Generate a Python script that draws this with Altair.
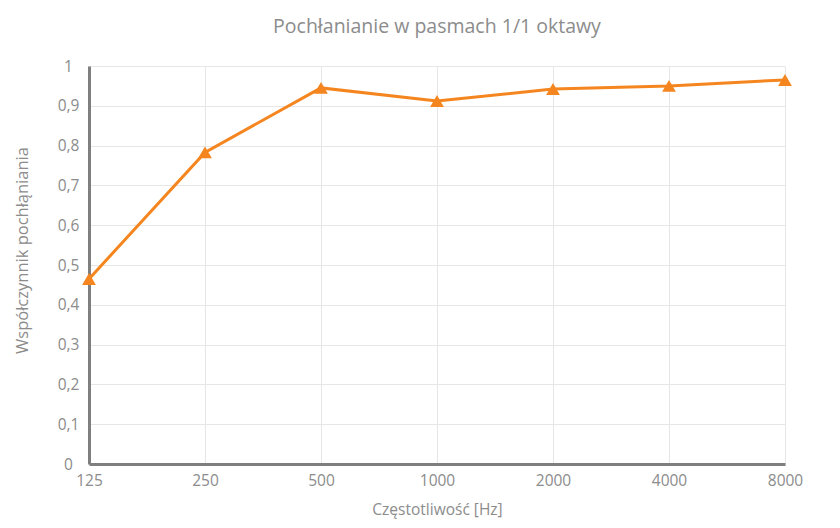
import altair as alt
import pandas as pd

freqs = ["125", "250", "500", "1000", "2000", "4000", "8000"]
alpha = [0.465, 0.783, 0.945, 0.912, 0.942, 0.950, 0.965]

df = pd.DataFrame({"f": freqs, "a": alpha})

GRAY = "#8c8c8c"
ORANGE = "#F5861F"
FONT = "Open Sans"

x = alt.X("f:N", sort=freqs, scale=alt.Scale(type="point", padding=0),
          axis=alt.Axis(title="Częstotliwość [Hz]", labelAngle=0, grid=True,
                        gridColor="#e6e6e6", domainColor="#7f7f7f", domainWidth=3,
                        ticks=False, labelPadding=9, labelFontSize=15.5,
                        labelColor=GRAY, titleColor=GRAY, titleFontSize=15.5,
                        titleFontWeight="normal", titlePadding=14,
                        labelFont=FONT, titleFont=FONT))
y = alt.Y("a:Q", scale=alt.Scale(domain=[0, 1], nice=False),
          axis=alt.Axis(title="Współczynnik pochłąniania", values=[i / 10 for i in range(11)],
                        labelExpr="replace(format(datum.value, '.1~f'), '.', ',')",
                        grid=True, gridColor="#e6e6e6", domainColor="#7f7f7f",
                        domainWidth=3, ticks=False, labelPadding=21, labelAlign="center",
                        labelFontSize=15.5, labelColor=GRAY, titleColor=GRAY,
                        titleFontSize=16.5, titleFontWeight="normal", titlePadding=27,
                        titleY=184,
                        labelFont=FONT, titleFont=FONT))

line = alt.Chart(df).mark_line(color=ORANGE, strokeWidth=3).encode(x=x, y=y)
pts = alt.Chart(df).mark_point(shape="triangle-up", filled=True, color=ORANGE,
                               size=190, opacity=1).encode(x=x, y=y)

chart = alt.layer(line, pts).properties(
    width=696, height=398,
    title=alt.TitleParams("Pochłanianie w pasmach 1/1 oktawy", font=FONT,
                          fontSize=19.5, fontWeight="normal", color=GRAY, offset=22),
    autosize=alt.AutoSizeParams(type="none"),
    padding={"left": 81, "top": 58, "right": 40, "bottom": 60},
).configure_view(stroke=None)

chart.save("out.html", embed_options={"renderer": "svg", "actions": False})
